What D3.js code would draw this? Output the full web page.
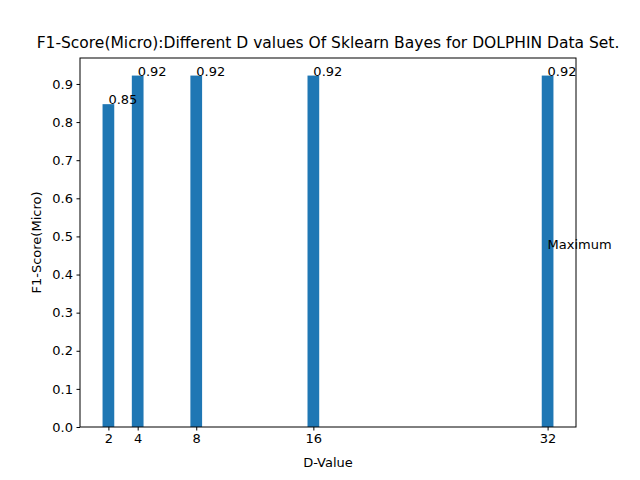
<!DOCTYPE html>
<html><head><meta charset="utf-8">
<script src="https://cdn.jsdelivr.net/npm/d3@7"></script>
<style>body{margin:0;background:#fff}text{font-family:"DejaVu Sans",sans-serif;fill:#000}</style>
</head><body>
<script>
const dValues = [2, 4, 8, 16, 32]
const scores = [0.847, 0.922, 0.922, 0.922, 0.922]
const labels = ['0.85', '0.92', '0.92', '0.92', '0.92']
const yTicks = [0, 0.1, 0.2, 0.3, 0.4, 0.5, 0.6, 0.7, 0.8, 0.9]

const W = 640, H = 480
const m = { l: 80, r: 576, t: 58, b: 427 }
const svg = d3.select('body').append('svg').attr('width', W).attr('height', H)

const x = d3.scaleLinear().domain([0.06, 33.94]).range([m.l, m.r])
const y = d3.scaleLinear().domain([0, 0.9681]).range([m.b, m.t])
const bw = 0.8

// Bars
svg.append('g').selectAll('rect').data(dValues).join('rect')
  .attr('x', d => x(d - bw / 2))
  .attr('width', d => x(d + bw / 2) - x(d - bw / 2))
  .attr('y', (d, i) => y(scores[i]))
  .attr('height', (d, i) => y(0) - y(scores[i]))
  .attr('fill', '#1f77b4')

// Value labels
svg.append('g').selectAll('text').data(dValues).join('text')
  .attr('x', d => x(d)).attr('y', (d, i) => y(scores[i]))
  .attr('font-size', 13).text((d, i) => labels[i])

svg.append('text').attr('x', x(32)).attr('y', y(scores[4] / 2) - 2)
  .attr('font-size', 13).text('Maximum')

// Axes
const xAxis = svg.append('g').attr('transform', `translate(0,${m.b})`)
  .call(d3.axisBottom(x).tickValues(dValues).tickSize(3.5).tickPadding(3.5))
const yAxis = svg.append('g').attr('transform', `translate(${m.l},0)`)
  .call(d3.axisLeft(y).tickValues(yTicks).tickFormat(d3.format('.1f')).tickSize(3.5).tickPadding(3.5))
for (const a of [xAxis, yAxis]) {
  a.selectAll('text').attr('font-size', 13).attr('font-family', 'DejaVu Sans')
  a.select('.domain').remove()
}
svg.append('rect').attr('x', m.l).attr('y', m.t).attr('width', m.r - m.l).attr('height', m.b - m.t)
  .attr('fill', 'none').attr('stroke', '#000').attr('stroke-width', 1)

// Titles
svg.append('text').attr('x', (m.l + m.r) / 2).attr('y', 48).attr('text-anchor', 'middle')
  .attr('font-size', 15.5).text('F1-Score(Micro):Different D values Of Sklearn Bayes for DOLPHIN Data Set.')
svg.append('text').attr('x', (m.l + m.r) / 2).attr('y', 467).attr('text-anchor', 'middle')
  .attr('font-size', 13).text('D-Value')
svg.append('text').attr('transform', `translate(41,${(m.t + m.b) / 2}) rotate(-90)`).attr('text-anchor', 'middle')
  .attr('font-size', 13).text('F1-Score(Micro)')
</script>
</body></html>
